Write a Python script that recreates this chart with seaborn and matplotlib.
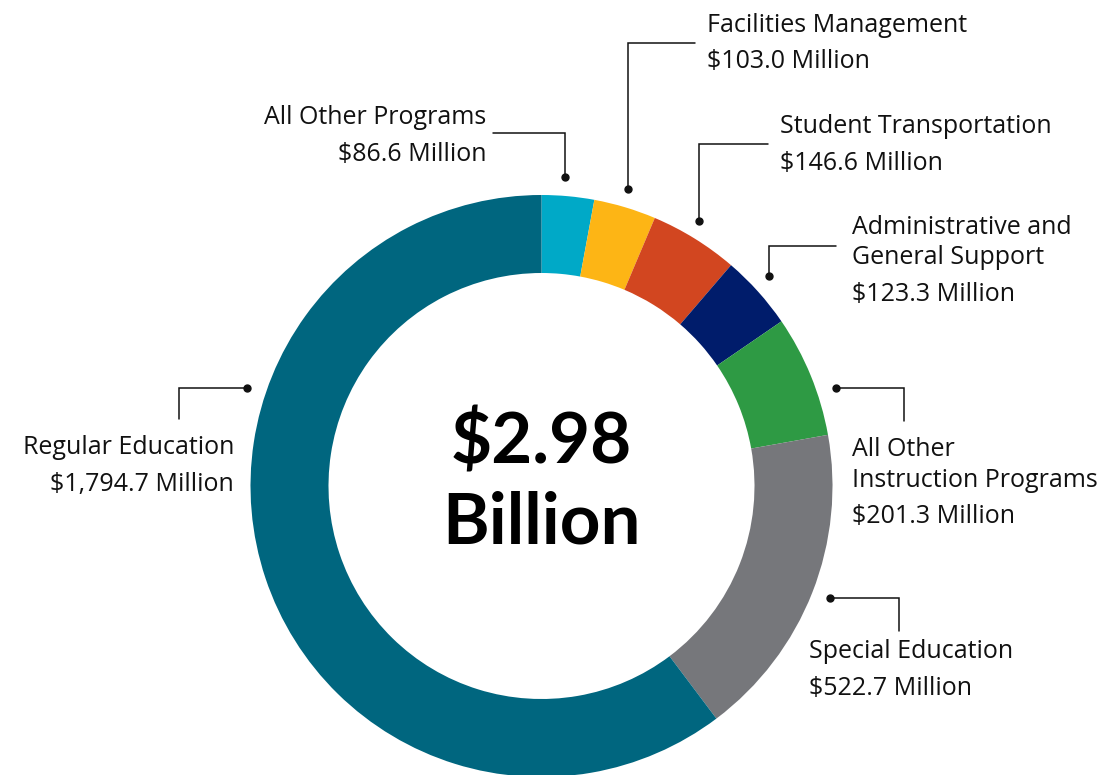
import matplotlib
matplotlib.use("Agg")
import matplotlib.pyplot as plt
import seaborn as sns

sns.set_theme(style="white")
plt.rcParams['font.family'] = ['Open Sans', 'DejaVu Sans']

# Budget by program, clockwise from the top of the ring
programs = ["All Other Programs", "Facilities Management", "Student Transportation",
            "Administrative and General Support", "All Other Instruction Programs",
            "Special Education", "Regular Education"]
amounts = [86.6, 103.0, 146.6, 123.3, 201.3, 522.7, 1794.7]
colors = ["#00A9C7", "#FDB515", "#D24620", "#001C6B", "#2E9A44", "#76777B", "#00667F"]
total_label = ["$2.98", "Billion"]

# label lines for each program (name lines, then value)
label_lines = [
    ["All Other Programs"],
    ["Facilities Management"],
    ["Student Transportation"],
    ["Administrative and", "General Support"],
    ["All Other", "Instruction Programs"],
    ["Special Education"],
    ["Regular Education"],
]

W, H = 1115, 775
fig = plt.figure(figsize=(W / 100, H / 100), dpi=100)
ax = fig.add_axes([0, 0, 1, 1])

cx, cy, R, ring = 541.5, 486, 291, 78
# y is inverted (pixel coords), so counterclock=True draws clockwise on screen
ax.pie(amounts, colors=colors, startangle=-90, counterclock=True,
       center=(cx, cy), radius=R,
       wedgeprops=dict(width=ring, linewidth=0))
ax.set_xlim(0, W)
ax.set_ylim(H, 0)
ax.set_aspect('equal')
ax.axis('off')

# text layout: anchor x, alignment, baselines for each line
layout = [
    (486, 'right', [124, 161]),
    (707, 'left', [32, 68]),
    (780, 'left', [133, 170]),
    (852, 'left', [234, 264, 301]),
    (852, 'left', [456, 487, 523]),
    (809, 'left', [658, 695]),
    (234, 'right', [454, 491]),
]
# leader paths (pixel coords), dot at the first point
leaders = [
    [(565, 177), (565, 133), (493, 133)],
    [(628, 189), (628, 43), (695, 43)],
    [(699, 221), (699, 144), (768, 144)],
    [(769, 276), (769, 246), (836, 246)],
    [(836, 388), (904, 388), (904, 421)],
    [(830, 598), (899, 598), (899, 631)],
    [(247, 388), (179, 388), (179, 419)],
]

fs = 18
for lines, amt, (x, ha, ys), path in zip(label_lines, amounts, layout, leaders):
    texts = lines + [f"${amt:,.1f} Million"]
    for t, y in zip(texts, ys):
        ax.text(x, y, t, ha=ha, va='baseline', fontsize=fs, color='#111111')
    xs = [p[0] for p in path]
    ys_ = [p[1] for p in path]
    ax.plot(xs, ys_, color='#111111', lw=1.1, solid_joinstyle='miter')
    ax.plot(xs[0], ys_[0], 'o', color='#111111', ms=5)

for t, y in zip(total_label, [464, 544]):
    ax.text(cx, y, t, ha='center', va='baseline', fontsize=51,
            fontweight='bold', family=['Lato', 'DejaVu Sans'], color='black')

fig.savefig("out.png", dpi=100, facecolor='white')
